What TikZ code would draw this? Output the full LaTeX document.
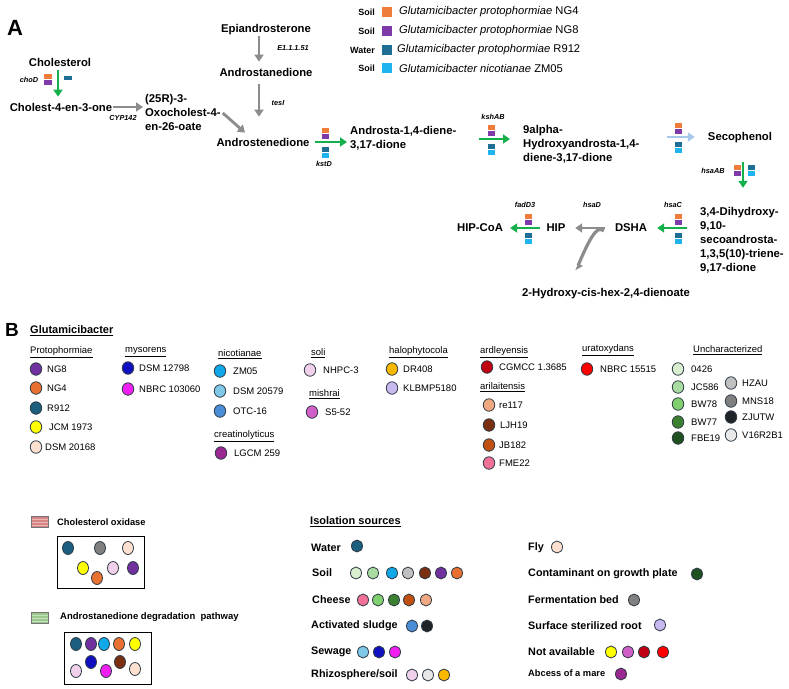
\documentclass[tikz,border=0pt]{standalone}
\usepackage{fontspec}
\setmainfont{Liberation Sans}
\usetikzlibrary{arrows.meta,shapes.geometric,calc}
\definecolor{agreen}{HTML}{14B04B}
\definecolor{agray}{HTML}{8C8C8C}
\definecolor{ablue}{HTML}{A8C8EA}
\definecolor{bOr}{HTML}{EE7D3B}
\definecolor{bPu}{HTML}{7D3AA8}
\definecolor{bTe}{HTML}{1F6F94}
\definecolor{bCy}{HTML}{1EB4F0}
\definecolor{cNGe}{HTML}{7030A0}
\definecolor{cNGf}{HTML}{E87030}
\definecolor{cRn}{HTML}{1B5E7E}
\definecolor{cJCM}{HTML}{FFFF00}
\definecolor{cPeach}{HTML}{FDE0D0}
\definecolor{cDBlue}{HTML}{1010C0}
\definecolor{cMag}{HTML}{F020F0}
\definecolor{cZM}{HTML}{10A8E8}
\definecolor{cLBlue}{HTML}{80C8E8}
\definecolor{cOTC}{HTML}{4A8ED8}
\definecolor{cLGCM}{HTML}{9A2890}
\definecolor{cLPink}{HTML}{F0D0EA}
\definecolor{cOrchid}{HTML}{D060C8}
\definecolor{cAmber}{HTML}{F8B800}
\definecolor{cLav}{HTML}{C8B8F0}
\definecolor{cDRed}{HTML}{C00010}
\definecolor{cSalmon}{HTML}{F0A880}
\definecolor{cBrown}{HTML}{7A3010}
\definecolor{cBurnt}{HTML}{C05010}
\definecolor{cPink}{HTML}{F07098}
\definecolor{cRed}{HTML}{FF0000}
\definecolor{cGa}{HTML}{D8F0D0}
\definecolor{cGb}{HTML}{A8DCA0}
\definecolor{cGc}{HTML}{80D070}
\definecolor{cGd}{HTML}{3A8030}
\definecolor{cGe}{HTML}{1E5020}
\definecolor{cHZ}{HTML}{C0C0C0}
\definecolor{cMNS}{HTML}{808080}
\definecolor{cZJ}{HTML}{202428}
\definecolor{cVs}{HTML}{E8E8E8}
\definecolor{dotline}{HTML}{2E3A44}
\definecolor{swRed}{HTML}{D68585}
\definecolor{swRedL}{HTML}{EBB5B5}
\definecolor{swGrn}{HTML}{9CC890}
\definecolor{swGrnL}{HTML}{C4E2BC}
\newcommand{\fourbars}[2]{%
 \fill[bOr] (#1-3.5,#2-14.5) rectangle (#1+3.5,#2-9.5);
 \fill[bPu] (#1-3.5,#2-8.5) rectangle (#1+3.5,#2-3.5);
 \fill[bTe] (#1-3.5,#2+5) rectangle (#1+3.5,#2+10);
 \fill[bCy] (#1-3.5,#2+11) rectangle (#1+3.5,#2+16);}
\tikzset{
 lbl/.style={font=\bfseries\fontsize{11.3}{14}\selectfont, inner sep=1pt, align=left},
 enz/.style={font=\bfseries\itshape\fontsize{7.3}{8}\selectfont, inner sep=0pt},
 garr/.style={draw=agreen, line width=2.8pt, -{Triangle[length=7pt,width=9pt]}},
 grarr/.style={draw=agray, line width=2.8pt, -{Triangle[length=7pt,width=9pt]}},
 barr/.style={draw=ablue, line width=2.8pt, -{Triangle[length=7pt,width=9pt]}},
 leg/.style={font=\fontsize{11.2}{13}\selectfont, inner sep=0pt, anchor=west},
 src/.style={font=\bfseries\fontsize{9}{10}\selectfont, inner sep=0pt, anchor=east},
 sq/.style={rectangle, minimum size=10pt, inner sep=0pt},
 hdr/.style={font=\fontsize{9.5}{11}\selectfont, inner sep=0pt, anchor=west},
 st/.style={font=\fontsize{9.5}{11}\selectfont, inner sep=0pt, anchor=west},
 dot/.style={ellipse, draw=dotline, line width=0.8pt, minimum width=11.5pt, minimum height=12.5pt, inner sep=0pt},
 bdot/.style={dot, minimum width=11pt, minimum height=13pt},
 idot/.style={dot, minimum width=11pt, minimum height=12pt},
 isrc/.style={font=\bfseries\fontsize{10.8}{12}\selectfont, inner sep=0pt, anchor=west},
 swatch/.style={rectangle, minimum width=17pt, minimum height=11pt, inner sep=0pt, line width=0.8pt},
 legbox/.style={draw=black, line width=1pt}
}
\begin{document}
\begin{tikzpicture}[x=1pt,y=-1pt]
\useasboundingbox[fill=white] (0,0) rectangle (789,688);

% ---------------- Panel A ----------------
\node[font=\bfseries\fontsize{22}{24}\selectfont, inner sep=0pt] (pA) at (15,28) {A};

\node[lbl] (chol) at (60,62) {Cholesterol};
\node[lbl] (cholone) at (61,107) {Cholest-4-en-3-one};
\node[lbl, anchor=west] (oxo) at (144,112) {(25R)-3-\\Oxocholest-4-\\en-26-oate};
\node[lbl] (epi) at (266,30) {Epiandrosterone};
\node[lbl] (andn) at (266,72) {Androstanedione};
\node[lbl] (ande) at (263,142) {Androstenedione};
\node[lbl, anchor=west] (add) at (349,138) {Androsta-1,4-diene-\\3,17-dione};
\node[lbl, anchor=west] (hadd) at (522,144) {9alpha-\\Hydroxyandrosta-1,4-\\diene-3,17-dione};
\node[lbl] (seco) at (740,138) {Secophenol};
\node[lbl, anchor=west] (dhsa) at (699,240) {3,4-Dihydroxy-\\9,10-\\secoandrosta-\\1,3,5(10)-triene-\\9,17-dione};
\node[lbl] (dsha) at (631,228) {DSHA};
\node[lbl] (hip) at (556,228) {HIP};
\node[lbl] (hipcoa) at (480,228) {HIP-CoA};
\node[lbl] (hhd) at (606,294) {2-Hydroxy-cis-hex-2,4-dienoate};

% enzyme labels
\node[enz] (e1) at (29,80) {choD};
\node[enz] (e2) at (123,118) {CYP142};
\node[enz] (e3) at (293,48) {E1.1.1.51};
\node[enz] (e4) at (278,103) {tesI};
\node[enz] (e5) at (324,164) {kstD};
\node[enz] (e6) at (493,117) {kshAB};
\node[enz] (e7) at (713,171) {hsaAB};
\node[enz] (e8) at (673,205) {hsaC};
\node[enz] (e9) at (592,205) {hsaD};
\node[enz] (e10) at (525,205) {fadD3};

% arrows
\draw[garr] ($(chol.south)+(-2,3)$) -- ($(chol.south |- cholone.north)+(-2,-5)$);
\draw[grarr, shorten >=1pt] (cholone.east) -- (cholone.east -| oxo.west);
\draw[grarr] ($(oxo.east)+(1,1)$) -- ($(ande.north)+(-18,-4)$);
\draw[grarr] ($(epi.south)+(-7,0)$) -- ($(epi.south |- andn.north)+(-7,-5)$);
\draw[grarr] ($(andn.south)+(-7,7)$) -- ($(andn.south |- ande.north)+(-7,-20)$);
\draw[garr] ($(ande.east)+(4.5,0)$) -- ($(ande.east -| add.west)+(-2,0)$);
\draw[garr] ($(add.east)+(21,1)$) -- ($(hadd.west)+(-12,-5)$);
\draw[barr] ($(hadd.east)+(26,-7)$) -- ($(seco.west)+(-12,-1)$);
\draw[garr] ($(seco.south)+(3,18)$) -- ($(seco.south |- dhsa.north)+(3,-18)$);
\draw[garr] ($(dhsa.west)+(-12,-12)$) -- ($(dsha.east)+(9,0)$);
\draw[grarr] ($(dsha.west)+(-9,0)$) -- ($(hip.east)+(8.6,0)$);
\draw[draw=agray, line width=3.2pt, -{Triangle[harpoon,length=6pt,width=9pt]}]
  ($(dsha.west)+(-10,3)$) .. controls ($(dsha.west)+(-15,-1)$) and ($(dsha.west)+(-20,0)$) .. ($(hhd.north)+(-30,-17)$);
\draw[garr] ($(hip.west)+(-5.6,0)$) -- ($(hipcoa.east)+(6,0)$);

% strain bars
\fill[bOr] (43.5,74) rectangle (51.5,79);
\fill[bPu] (43.5,80) rectangle (51.5,85);
\fill[bTe] (64,75.5) rectangle (72,80);
\fourbars{325}{142}
\fourbars{491.5}{139}
\fourbars{678.5}{137}
\fourbars{678.5}{228}
\fourbars{528.5}{228}
\fill[bOr] (734,164.5) rectangle (741,169.5);
\fill[bPu] (734,170.5) rectangle (741,175.5);
\fill[bTe] (748,164.5) rectangle (755,169.5);
\fill[bCy] (748,170.5) rectangle (755,175.5);

% top legend
\node[src] (s1) at (375,12) {Soil};
\node[sq, fill=bOr] (q1) at (387,12) {};
\node[leg] (t1) at (399,12) {\textit{Glutamicibacter protophormiae} NG4};
\node[src] (s2) at (375,31) {Soil};
\node[sq, fill=bPu] (q2) at (387,31) {};
\node[leg] (t2) at (399,31) {\textit{Glutamicibacter protophormiae} NG8};
\node[src] (s3) at (375,50) {Water};
\node[sq, fill=bTe] (q3) at (387,50) {};
\node[leg] (t3) at (397,50) {\textit{Glutamicibacter protophormiae} R912};
\node[src] (s4) at (375,68) {Soil};
\node[sq, fill=bCy] (q4) at (387,68) {};
\node[leg] (t4) at (399,68) {\textit{Glutamicibacter nicotianae} ZM05};

% ---------------- Panel B ----------------
\node[font=\bfseries\fontsize{19}{21}\selectfont, inner sep=0pt] (pB) at (12,330) {B};
\node[font=\bfseries\fontsize{11}{13}\selectfont, inner sep=0pt, anchor=west] (gtitle) at (30,331) {\underline{Glutamicibacter}};

\node[hdr] (h1) at (30,352) {\underline{Protophormiae}};
\node[dot, fill=cNGe] (d1) at (36,369) {};   \node[st] (l1) at (47,369) {NG8};
\node[dot, fill=cNGf] (d2) at (36,388) {};   \node[st] (l2) at (47,388) {NG4};
\node[dot, fill=cRn] (d3) at (36,408) {};    \node[st] (l3) at (47,408) {R912};
\node[dot, fill=cJCM] (d4) at (36,427) {};   \node[st] (l4) at (49,427) {JCM 1973};
\node[dot, fill=cPeach] (d5) at (36,447) {}; \node[st] (l5) at (45,447) {DSM 20168};

\node[hdr] (h2) at (125,352) {\underline{mysorens}};
\node[dot, fill=cDBlue] (d6) at (128,368) {}; \node[st] (l6) at (139,368) {DSM 12798};
\node[dot, fill=cMag] (d7) at (128,389) {};   \node[st] (l7) at (139,389) {NBRC 103060};

\node[hdr] (h3) at (218,354) {\underline{nicotianae}};
\node[dot, fill=cZM] (d8) at (220,371) {};     \node[st] (l8) at (233,371) {ZM05};
\node[dot, fill=cLBlue] (d9) at (220,391) {};  \node[st] (l9) at (233,391) {DSM 20579};
\node[dot, fill=cOTC] (d10) at (220,411) {};   \node[st] (l10) at (233,411) {OTC-16};
\node[hdr] (h4) at (214,436) {\underline{creatinolyticus}};
\node[dot, fill=cLGCM] (d11) at (221,453) {};  \node[st] (l11) at (234,453) {LGCM 259};

\node[hdr] (h5) at (311,353) {\underline{soli}};
\node[dot, fill=cLPink] (d12) at (310,370) {}; \node[st] (l12) at (323,370) {NHPC-3};
\node[hdr] (h6) at (309,394) {\underline{mishrai}};
\node[dot, fill=cOrchid] (d13) at (312,412) {}; \node[st] (l13) at (325,412) {S5-52};

\node[hdr] (h7) at (389,352) {\underline{halophytocola}};
\node[dot, fill=cAmber] (d14) at (392,369) {}; \node[st] (l14) at (403,369) {DR408};
\node[dot, fill=cLav] (d15) at (392,388) {};   \node[st] (l15) at (403,388) {KLBMP5180};

\node[hdr] (h8) at (480,352) {\underline{ardleyensis}};
\node[dot, fill=cDRed] (d16) at (487,367) {}; \node[st] (l16) at (499,367) {CGMCC 1.3685};
\node[hdr] (h9) at (480,387) {\underline{arilaitensis}};
\node[dot, fill=cSalmon] (d17) at (489,405) {}; \node[st] (l17) at (499,405) {re117};
\node[dot, fill=cBrown] (d18) at (489,425) {};  \node[st] (l18) at (500,425) {LJH19};
\node[dot, fill=cBurnt] (d19) at (489,445) {};  \node[st] (l19) at (499,445) {JB182};
\node[dot, fill=cPink] (d20) at (489,463) {};   \node[st] (l20) at (499,463) {FME22};

\node[hdr] (h10) at (582,350) {\underline{uratoxydans}};
\node[dot, fill=cRed] (d21) at (587,369) {}; \node[st] (l21) at (600,369) {NBRC 15515};

\node[hdr] (h11) at (693,350) {\underline{Uncharacterized}};
\node[dot, fill=cGa] (d22) at (678,369) {}; \node[st] (l22) at (691,369) {0426};
\node[dot, fill=cGb] (d23) at (678,387) {}; \node[st] (l23) at (691,387) {JC586};
\node[dot, fill=cGc] (d24) at (678,404) {}; \node[st] (l24) at (691,404) {BW78};
\node[dot, fill=cGd] (d25) at (678,422) {}; \node[st] (l25) at (691,422) {BW77};
\node[dot, fill=cGe] (d26) at (678,438) {}; \node[st] (l26) at (691,438) {FBE19};
\node[dot, fill=cHZ] (d27) at (731,383) {};  \node[st] (l27) at (742,383) {HZAU};
\node[dot, fill=cMNS] (d28) at (731,401) {}; \node[st] (l28) at (742,401) {MNS18};
\node[dot, fill=cZJ] (d29) at (731,417) {};  \node[st] (l29) at (742,417) {ZJUTW};
\node[dot, fill=cVs] (d30) at (731,435) {};  \node[st] (l30) at (742,435) {V16R2B1};

% ---------------- bottom legends ----------------
\node[swatch, draw=black!55, fill=swRed] (sw1) at (39.5,521.5) {};
\draw[swRedL, line width=0.7pt] (31.5,519) -- (47.5,519) (31.5,522) -- (47.5,522) (31.5,525) -- (47.5,525);
\node[font=\bfseries\fontsize{9.3}{11}\selectfont, inner sep=0pt, anchor=west] (co) at (57,522) {Cholesterol oxidase};
\draw[legbox] (57,536) rectangle (144,588);
\node[bdot, fill=cRn] (c1) at (68,548) {};
\node[bdot, fill=cMNS] (c2) at (100,548) {};
\node[bdot, fill=cPeach] (c3) at (128,548) {};
\node[bdot, fill=cJCM] (c4) at (83,568) {};
\node[bdot, fill=cLPink] (c5) at (113,568) {};
\node[bdot, fill=cNGe] (c6) at (133,568) {};
\node[bdot, fill=cNGf] (c7) at (97,578) {};

\node[swatch, draw=black!55, fill=swGrn] (sw2) at (39.5,617.5) {};
\draw[swGrnL, line width=0.7pt] (31.5,615) -- (47.5,615) (31.5,618) -- (47.5,618) (31.5,621) -- (47.5,621);
\node[font=\bfseries\fontsize{9.5}{11}\selectfont, inner sep=0pt, anchor=west] (ad) at (60,617) {Androstanedione degradation\ \ pathway};
\draw[legbox] (64,632) rectangle (151,684);
\node[bdot, fill=cRn] (a1) at (76,644) {};
\node[bdot, fill=cNGe] (a2) at (91,644) {};
\node[bdot, fill=cZM] (a3) at (104,644) {};
\node[bdot, fill=cNGf] (a4) at (119,644) {};
\node[bdot, fill=cJCM] (a5) at (135,644) {};
\node[bdot, fill=cLPink] (a6) at (76,671) {};
\node[bdot, fill=cDBlue] (a7) at (91,662) {};
\node[bdot, fill=cMag] (a8) at (106,671) {};
\node[bdot, fill=cBrown] (a9) at (120,662) {};
\node[bdot, fill=cPeach] (a10) at (135,669) {};

% isolation sources
\node[font=\bfseries\fontsize{11}{13}\selectfont, inner sep=0pt, anchor=west] (iso) at (310,522) {\underline{Isolation sources}};
\node[isrc] (w) at (311,548) {Water};
\node[idot, fill=cRn] (w1) at (357,546) {};
\node[isrc] (so) at (312,573) {Soil};
\foreach \xx/\cc [count=\i] in {356/cGa,373/cGb,392/cZM,408/cHZ,425/cBrown,441/cNGe,457/cNGf}
  \node[idot, fill=\cc] (so\i) at (\xx,573) {};
\node[isrc] (ch) at (312,600) {Cheese};
\foreach \xx/\cc [count=\i] in {363/cPink,378/cGc,394/cGd,409/cBurnt,426/cSalmon}
  \node[idot, fill=\cc] (ch\i) at (\xx,600) {};
\node[isrc] (as) at (311,626) {Activated sludge};
\foreach \xx/\cc [count=\i] in {412/cOTC,427/cZJ}
  \node[idot, fill=\cc] (as\i) at (\xx,626) {};
\node[isrc] (sw) at (311,652) {Sewage};
\foreach \xx/\cc [count=\i] in {363/cLBlue,379/cDBlue,395/cMag}
  \node[idot, fill=\cc] (sw\i) at (\xx,652) {};
\node[isrc] (rh) at (311,675) {Rhizosphere/soil};
\foreach \xx/\cc [count=\i] in {412/cLPink,428/cVs,444/cAmber}
  \node[idot, fill=\cc] (rh\i) at (\xx,675) {};

\node[isrc] (fl) at (528,548) {Fly};
\node[idot, fill=cPeach] (fl1) at (557,547) {};
\node[isrc] (cg) at (528,574) {Contaminant on growth plate};
\node[idot, fill=cGe] (cg1) at (697,574) {};
\node[isrc] (fb) at (528,600) {Fermentation bed};
\node[idot, fill=cMNS] (fb1) at (634,600) {};
\node[isrc] (sr) at (528,626) {Surface sterilized root};
\node[idot, fill=cLav] (sr1) at (660,625) {};
\node[isrc] (na) at (528,652) {Not available};
\foreach \xx/\cc [count=\i] in {611/cJCM,628/cOrchid,644/cDRed,663/cRed}
  \node[idot, fill=\cc] (na\i) at (\xx,652) {};
\node[font=\bfseries\fontsize{9.3}{11}\selectfont, inner sep=0pt, anchor=west] (am) at (528,673) {Abcess of a mare};
\node[idot, fill=cLGCM] (am1) at (621,674) {};
\end{tikzpicture}
\end{document}
